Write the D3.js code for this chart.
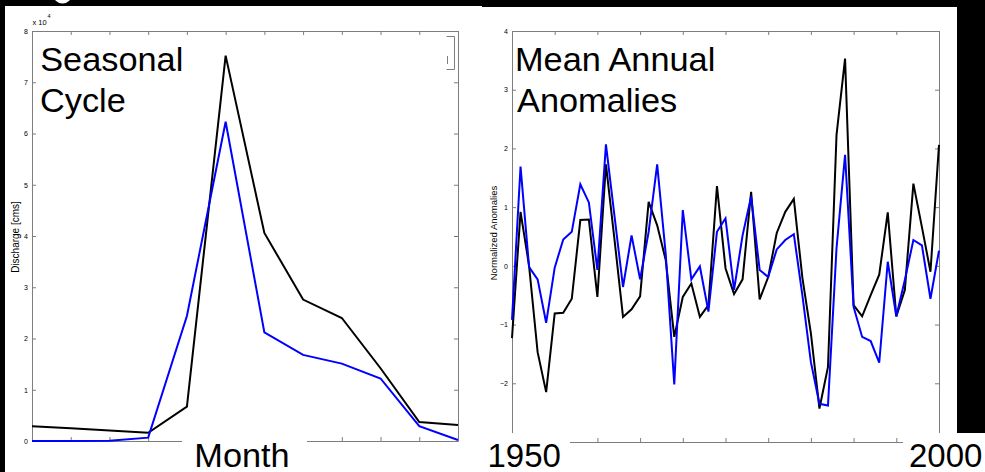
<!DOCTYPE html>
<html>
<head>
<meta charset="utf-8">
<script src="https://cdn.jsdelivr.net/npm/d3@7"></script>
<style>
  html, body { margin: 0; padding: 0; background: #000; }
  svg { display: block; }
  text { font-family: "Liberation Sans", Arial, Helvetica, sans-serif; }
</style>
</head>
<body>
<svg id="chart" width="985" height="472"></svg>
<script>
// ---- Seasonal cycle: monthly discharge [cms] ----
const months = [1, 2, 3, 4, 5, 6, 7, 8, 9, 10, 11, 12];
const dischargeBlack = [2900, 2500, 2050, 1600, 6700, 75200, 40600, 27600, 24000, 14200, 3700, 3100];
const dischargeBlue  = [0, 0, 60, 650, 24400, 62300, 21200, 16800, 15100, 12200, 2900, 200];
const dischargeTicks = [0, 10000, 20000, 30000, 40000, 50000, 60000, 70000, 80000];

// ---- Mean annual normalized anomalies, 1950-2000 ----
const years = [
  1950, 1951, 1952, 1953, 1954, 1955, 1956, 1957, 1958, 1959,
  1960, 1961, 1962, 1963, 1964, 1965, 1966, 1967, 1968, 1969,
  1970, 1971, 1972, 1973, 1974, 1975, 1976, 1977, 1978, 1979,
  1980, 1981, 1982, 1983, 1984, 1985, 1986, 1987, 1988, 1989,
  1990, 1991, 1992, 1993, 1994, 1995, 1996, 1997, 1998, 1999, 2000
];
const anomalyBlack = [
  -1.23, 0.92, 0.00, -1.47, -2.15, -0.81, -0.80, -0.56, 0.78, 0.79,
  -0.53, 1.73, 0.45, -0.87, -0.74, -0.52, 1.09, 0.69, 0.10, -1.21,
  -0.53, -0.30, -0.87, -0.67, 1.36, -0.04, -0.48, -0.23, 1.26, -0.57,
  -0.19, 0.56, 0.92, 1.14, -0.20, -1.15, -2.43, -1.72, 2.23, 3.53,
  -0.67, -0.86, -0.50, -0.15, 0.91, -0.86, -0.41, 1.40, 0.66, -0.10, 2.06
];
const anomalyBlue = [
  -0.92, 1.69, -0.02, -0.23, -0.97, -0.03, 0.45, 0.58, 1.39, 1.08,
  -0.07, 2.07, 0.85, -0.36, 0.52, -0.23, 0.58, 1.73, 0.20, -2.02,
  0.95, -0.23, -0.01, -0.78, 0.58, 0.81, -0.41, 0.52, 1.18, -0.07,
  -0.19, 0.28, 0.44, 0.54, -0.50, -1.64, -2.35, -2.38, 0.30, 1.89,
  -0.70, -1.21, -1.28, -1.65, 0.07, -0.86, -0.24, 0.44, 0.35, -0.56, 0.26
];
// labelled ticks on the anomaly axis (the -3 floor sits on the bottom edge)
const anomalyTicks = [-2, -1, 0, 1, 2, 3, 4];
const yearTicks = [1950, 1955, 1960, 1965, 1970, 1975, 1980, 1985, 1990, 1995, 2000];

const AXIS_GREY = "#7d7d7d";
const svg = d3.select("#chart");

// panel backgrounds
svg.append("rect").attr("x", 5).attr("y", 6).attr("width", 477).attr("height", 466).attr("fill", "#fff");
svg.append("rect").attr("x", 482).attr("y", 7).attr("width", 475).attr("height", 465).attr("fill", "#fff");
svg.append("circle").attr("cx", 62.5).attr("cy", -6).attr("r", 9.5).attr("fill", "#fff");

function styleAxis(g, showText) {
  g.selectAll(".domain").attr("stroke", AXIS_GREY).attr("stroke-width", 1);
  g.selectAll(".tick line").attr("stroke", AXIS_GREY).attr("stroke-width", 1);
  if (showText) {
    g.selectAll(".tick text").attr("fill", "#000").attr("font-size", 7)
      .attr("font-family", "'Liberation Sans', Arial, sans-serif");
  } else {
    g.selectAll(".tick text").remove();
  }
}

// draws a boxed axes frame with inward ticks on all four sides
function frame(x, y, xTicks, yTicks, yFmt) {
  const [x0, x1] = x.range();
  const [y0, y1] = y.range();
  const g = svg.append("g");
  g.append("g").attr("transform", `translate(${x0},0)`)
    .call(d3.axisLeft(y).tickValues(yTicks).tickSizeInner(-4).tickSizeOuter(0).tickPadding(4).tickFormat(yFmt))
    .call(s => styleAxis(s, true));
  g.append("g").attr("transform", `translate(${x1},0)`)
    .call(d3.axisRight(y).tickValues(yTicks).tickSizeInner(-4).tickSizeOuter(0))
    .call(s => styleAxis(s, false));
  g.append("g").attr("transform", `translate(0,${y1})`)
    .call(d3.axisTop(x).tickValues(xTicks).tickSizeInner(-4).tickSizeOuter(0))
    .call(s => styleAxis(s, false));
  g.append("g").attr("transform", `translate(0,${y0})`)
    .call(d3.axisBottom(x).tickValues(xTicks).tickSizeInner(-4).tickSizeOuter(0))
    .call(s => styleAxis(s, false));
  return g;
}

function series(x, y, xs, ys, color) {
  svg.append("path")
    .datum(xs.map((d, i) => [d, ys[i]]))
    .attr("fill", "none")
    .attr("stroke", color)
    .attr("stroke-width", 2)
    .attr("stroke-linejoin", "miter")
    .attr("d", d3.line().x(d => x(d[0])).y(d => y(d[1])));
}

// ---------- left panel: seasonal cycle ----------
const xM = d3.scaleLinear().domain([1, 12]).range([32, 458]);
const yM = d3.scaleLinear().domain([0, 80000]).range([441, 31]);
frame(xM, yM, months, dischargeTicks, d => d / 10000);
series(xM, yM, months, dischargeBlack, "#000");
series(xM, yM, months, dischargeBlue, "#0000ff");

// exponent label
const expo = svg.append("text").attr("x", 32.5).attr("y", 25).attr("font-size", 7.5).attr("fill", "#000");
expo.append("tspan").text("x 10");
expo.append("tspan").attr("font-size", 5.5).attr("dy", -7.5).attr("dx", 0.8).text("4");

svg.append("text")
  .attr("transform", "translate(18.5,237) rotate(-90)")
  .attr("text-anchor", "middle").attr("font-size", 10).attr("fill", "#000")
  .text("Discharge [cms]");

// small legend frame
svg.append("path")
  .attr("d", "M446.5,36.5 H454.5 V69.5 H446.5 M447.5,56 V64")
  .attr("fill", "none").attr("stroke", AXIS_GREY).attr("stroke-width", 1);

svg.append("text").attr("transform", "translate(40.2,70.7) scale(1.04,1)").attr("font-size", 33).attr("fill", "#000").text("Seasonal");
svg.append("text").attr("transform", "translate(40,111.7) scale(1.04,1)").attr("font-size", 33).attr("fill", "#000").text("Cycle");

// ---------- right panel: mean annual anomalies ----------
const xY = d3.scaleLinear().domain([1950, 2000]).range([512, 939]);
const yY = d3.scaleLinear().domain([-3, 4]).range([442, 31]);
frame(xY, yY, yearTicks, anomalyTicks, d3.format("d"));
series(xY, yY, years, anomalyBlack, "#000");
series(xY, yY, years, anomalyBlue, "#0000ff");

svg.append("text")
  .attr("transform", "translate(497,233) rotate(-90)")
  .attr("text-anchor", "middle").attr("font-size", 9.5).attr("fill", "#000")
  .text("Normalized Anomalies");

svg.append("text").attr("transform", "translate(515,70.7) scale(1.04,1)").attr("font-size", 33).attr("fill", "#000").text("Mean Annual");
svg.append("text").attr("transform", "translate(517,111.7) scale(1.04,1)").attr("font-size", 33).attr("fill", "#000").text("Anomalies");

// ---------- edge strip and label boxes below the axes ----------
svg.append("rect").attr("x", 957).attr("y", 0).attr("width", 28).attr("height", 433).attr("fill", "#000");

function labelBox(x, y, w, h, tx, label, stretch) {
  svg.append("rect").attr("x", x).attr("y", y).attr("width", w).attr("height", h).attr("fill", "#fff");
  svg.append("text").attr("transform", `translate(${tx},466.5) scale(${stretch},1)`)
    .attr("font-size", 33).attr("fill", "#000").text(label);
}
labelBox(182, 435, 125, 37, 194.3, "Month", 1.04);
labelBox(480, 433, 90, 39, 487.5, "1950", 1);
labelBox(903, 433, 82, 39, 909, "2000", 1);
</script>
</body>
</html>
